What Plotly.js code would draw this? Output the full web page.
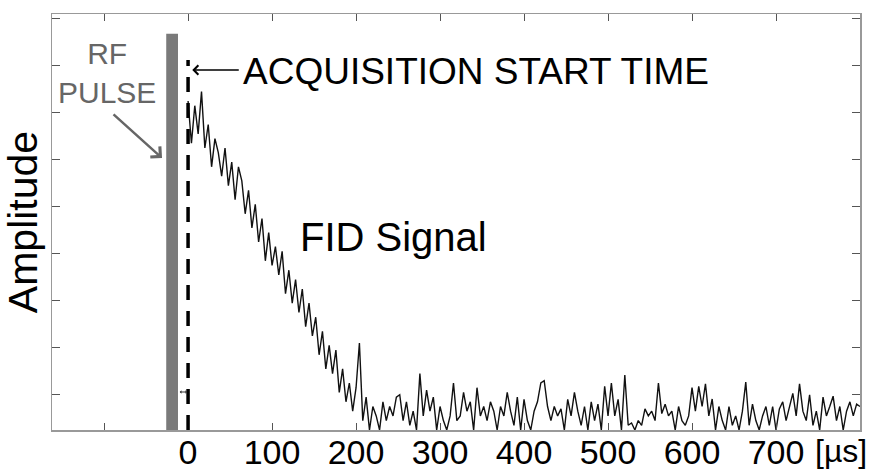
<!DOCTYPE html>
<html>
<head>
<meta charset="utf-8">
<script src="https://cdn.plot.ly/plotly-3.0.1.min.js"></script>
<style>html,body{margin:0;padding:0;background:#fff;}#chart{width:878px;height:472px;}</style>
</head>
<body>
<div id="chart"></div>
<script>
// Time samples [µs]
const timeUs = [
0,4,8,12,16,20,24,28,32,36,40,44,48,52,56,60,64,68,72,76,
80,84,88,92,96,100,104,108,112,116,120,124,128,132,136,140,144,148,152,156,
160,164,168,172,176,180,184,188,192,196,200,204,208,212,216,220,224,228,232,236,
240,244,248,252,256,260,264,268,272,276,280,284,288,292,296,300,304,308,312,316,
320,324,328,332,336,340,344,348,352,356,360,364,368,372,376,380,384,388,392,396,
400,404,408,412,416,420,424,428,432,436,440,444,448,452,456,460,464,468,472,476,
480,484,488,492,496,500,504,508,512,516,520,524,528,532,536,540,544,548,552,556,
560,564,568,572,576,580,584,588,592,596,600,604,608,612,616,620,624,628,632,636,
640,644,648,652,656,660,664,668,672,676,680,684,688,692,696,700,704,708,712,716,
720,724,728,732,736,740,744,748,752,756,760,764,768,772,776,780,784,788,792,796,
800
];
// FID amplitude (arbitrary units)
const fidAmplitude = [
7.0,6.1,6.9,6.3,7.2,6.0,6.5,5.6,6.2,5.9,5.4,6.0,5.2,5.7,4.9,5.6,5.3,4.6,5.1,4.3,
4.8,4.0,4.5,3.6,4.2,3.5,3.9,3.3,3.8,2.9,3.4,2.7,3.2,2.5,3.0,2.2,2.7,2.0,2.4,1.6,
2.1,1.3,1.8,1.2,1.7,0.8,1.3,0.6,1.0,0.4,0.9,1.85,0.2,0.7,0.0,0.5,0.3,0.0,0.6,0.2,
0.5,0.3,0.7,0.75,0.2,0.6,0.1,0.4,0.0,1.2,0.3,0.85,0.4,0.7,0.0,0.5,0.2,0.0,0.3,1.0,
0.2,0.3,0.8,0.4,0.6,0.0,0.9,0.3,0.5,0.2,0.6,0.4,0.0,0.5,0.3,0.8,0.4,0.1,0.7,0.0,
0.65,0.2,0.0,0.4,0.6,1.0,1.05,0.5,0.2,0.5,0.3,0.45,0.0,0.65,0.3,0.8,0.4,0.1,0.5,0.0,
0.6,0.2,0.55,0.0,0.93,0.3,1.0,0.3,0.65,0.0,1.17,0.1,0.15,0.0,0.2,0.1,0.45,0.3,0.4,0.2,
1.0,0.35,0.55,0.3,0.4,0.0,0.5,0.2,0.1,0.3,0.9,0.4,0.93,0.5,0.98,0.3,0.66,0.0,0.5,0.2,
0.0,0.5,0.1,0.3,0.0,0.4,1.02,0.1,0.55,0.2,0.0,0.3,0.5,0.1,0.5,0.0,0.45,0.6,0.2,0.5,
0.78,0.3,0.98,0.4,0.2,0.75,0.1,0.4,0.0,0.7,0.3,0.5,0.72,0.2,0.5,0.0,0.4,0.6,0.3,0.55,
0.5
];
const xTickVals = [-100,0,100,200,300,400,500,600,700,800];
const xTickText = ["","0","100","200","300","400","500","600","700",""];
const unitLabel = "[µs]";
const rfPulse = {start: -26, end: -12, height: 8.43};
const acquisitionStart = 0;
const acquisitionLineTop = 7.87;

const FONT = "Liberation Sans, Arial, Helvetica, sans-serif";

const trace = {
  x: timeUs, y: fidAmplitude, type: 'scatter', mode: 'lines',
  line: {color: '#111', width: 1.4}, hoverinfo: 'skip', cliponaxis: true
};

const layout = {
  width: 878, height: 472,
  margin: {l: 52, r: 18, t: 14, b: 42},
  paper_bgcolor: '#fff', plot_bgcolor: '#fff',
  showlegend: false,
  font: {family: FONT, color: '#000'},
  xaxis: {
    range: [-162, 800], tickvals: xTickVals, ticktext: xTickText,
    ticks: 'inside', ticklen: 7, tickwidth: 1, tickcolor: '#555',
    showline: true, linecolor: '#999', linewidth: 1.5, mirror: 'ticks',
    showgrid: false, zeroline: false,
    tickfont: {size: 34, family: FONT, color: '#000'},
    ticklabelstandoff: -8
  },
  yaxis: {
    range: [0, 8.851], tick0: 0.745, dtick: 1,
    ticks: 'inside', ticklen: 8, tickwidth: 1, tickcolor: '#555',
    showline: true, linecolor: '#999', linewidth: 1.5, mirror: 'ticks',
    showgrid: false, zeroline: false, showticklabels: false,
    title: {text: 'Amplitude', font: {size: 41, family: FONT, color: '#000'}, standoff: 6}
  },
  shapes: [
    {type: 'rect', xref: 'x', yref: 'y', x0: rfPulse.start, x1: rfPulse.end, y0: 0, y1: rfPulse.height,
     fillcolor: '#7a7a7a', line: {width: 0}},
    {type: 'line', xref: 'x', yref: 'y', x0: acquisitionStart, x1: acquisitionStart, y0: 0, y1: acquisitionLineTop,
     line: {color: '#000', width: 3.5, dash: '15px,11px'}}
  ],
  annotations: [
    {xref: 'x', yref: 'y', x: 5, y: (430-70)/47, ax: 48, ay: 0, text: '', showarrow: true,
     arrowhead: 4, arrowsize: 1.2, arrowwidth: 1.5, arrowcolor: '#000'},
    {xref: 'paper', yref: 'paper', x: (241-52)/808, y: (430-72)/416, xanchor: 'left', yanchor: 'middle',
     text: 'ACQUISITION START TIME', showarrow: false, font: {size: 37, family: FONT, color: '#000'}},
    {xref: 'paper', yref: 'paper', x: (107-52)/808, y: (430-73)/416, xanchor: 'center', yanchor: 'middle',
     text: 'RF<br>PULSE', showarrow: false, align: 'center', font: {size: 30, family: FONT, color: '#666'}},
    {xref: 'x', yref: 'y', x: -31, y: (430-158)/47, ax: -50, ay: -45, text: '', showarrow: true,
     arrowhead: 4, arrowsize: 1.1, arrowwidth: 2.5, arrowcolor: '#666'},
    {xref: 'x', yref: 'y', x: -1, y: (430-392)/47, ax: -9, ay: 0, text: '', showarrow: true,
     arrowhead: 1, arrowside: 'end+start', arrowsize: 0.6, arrowwidth: 1, arrowcolor: '#333'},
    {xref: 'paper', yref: 'paper', x: (393-52)/808, y: (430-237)/416, xanchor: 'center', yanchor: 'middle',
     text: 'FID Signal', showarrow: false, font: {size: 40, family: FONT, color: '#000'}},
    {xref: 'paper', yref: 'paper', x: (841-52)/808, y: (430-451)/416, xanchor: 'center', yanchor: 'middle',
     text: unitLabel, showarrow: false, font: {size: 32, family: FONT, color: '#000'}}
  ]
};

Plotly.newPlot('chart', [trace], layout, {staticPlot: true, displayModeBar: false});
</script>
</body>
</html>
